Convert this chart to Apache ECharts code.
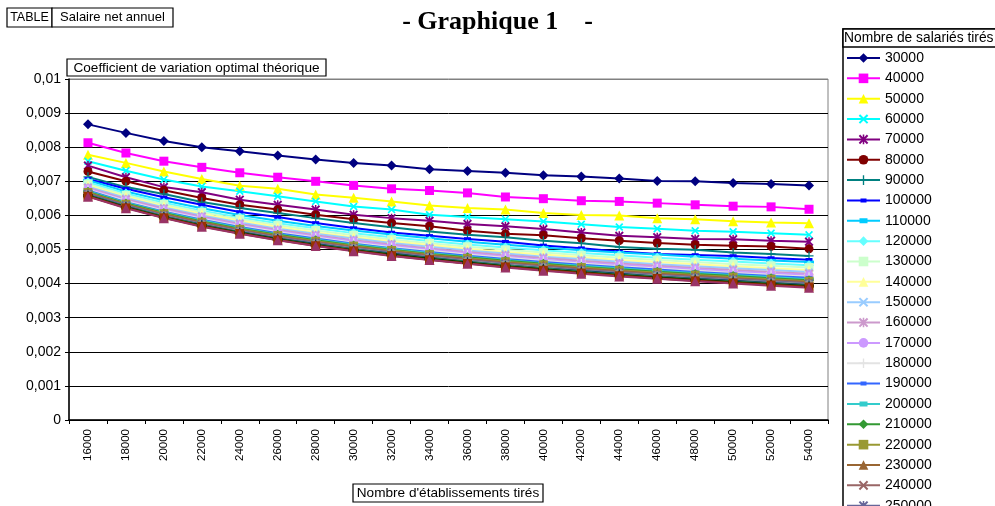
<!DOCTYPE html>
<html><head><meta charset="utf-8">
<script src="https://cdn.jsdelivr.net/npm/echarts@6/dist/echarts.min.js"></script>
<style>html,body{margin:0;padding:0;background:#fff}#c{width:995px;height:506px}</style>
</head><body><div id="c"></div>
<script>
// x categories: Nombre d'établissements tirés
const categories = ['16000','18000','20000','22000','24000','26000','28000','30000','32000','34000','36000','38000','40000','42000','44000','46000','48000','50000','52000','54000'];
// y tick values (in thousandths) 0..10 -> 0 .. 0,01
const yTicks = [0,1,2,3,4,5,6,7,8,9,10];
// series names: Nombre de salariés tirés
const seriesNames = ['30000','40000','50000','60000','70000','80000','90000','100000','110000','120000','130000','140000','150000','160000','170000','180000','190000','200000','210000','220000','230000','240000','250000','260000','270000','280000','290000','300000','310000','320000'];
// values in thousandths (x 0.001)
const s30000  = [8.67,8.42,8.18,8.00,7.88,7.76,7.64,7.54,7.46,7.35,7.30,7.25,7.18,7.14,7.08,7.01,7.00,6.95,6.92,6.88];
const s40000  = [8.13,7.83,7.59,7.41,7.25,7.12,7.00,6.88,6.78,6.73,6.66,6.54,6.49,6.43,6.41,6.36,6.31,6.27,6.25,6.18];
const s50000  = [7.78,7.54,7.29,7.07,6.87,6.78,6.61,6.52,6.41,6.29,6.22,6.17,6.07,6.01,6.00,5.92,5.89,5.83,5.79,5.77];
const s60000  = [7.59,7.31,7.05,6.85,6.71,6.56,6.41,6.26,6.17,6.02,5.95,5.89,5.82,5.74,5.66,5.61,5.55,5.52,5.48,5.43];
const s70000  = [7.46,7.12,6.83,6.68,6.46,6.31,6.17,6.02,5.92,5.84,5.75,5.68,5.60,5.50,5.40,5.36,5.31,5.30,5.26,5.23];
const s80000  = [7.29,7.00,6.74,6.51,6.31,6.17,6.02,5.89,5.78,5.68,5.55,5.46,5.42,5.33,5.26,5.19,5.14,5.11,5.09,5.02];
const s90000  = [7.13,6.83,6.63,6.39,6.22,6.07,5.92,5.78,5.65,5.53,5.43,5.36,5.26,5.18,5.07,5.02,4.99,4.91,4.87,4.81];
const s100000 = [7.07,6.78,6.53,6.31,6.10,5.95,5.78,5.63,5.50,5.40,5.31,5.23,5.12,5.04,4.94,4.87,4.84,4.81,4.75,4.70];
const s110000 = [7.03,6.70,6.44,6.21,6.01,5.84,5.69,5.56,5.44,5.33,5.23,5.14,5.06,4.98,4.91,4.85,4.79,4.73,4.68,4.63];
const s120000 = [6.97,6.64,6.37,6.14,5.94,5.77,5.62,5.48,5.36,5.25,5.15,5.06,4.98,4.90,4.83,4.76,4.70,4.65,4.59,4.54];
const s130000 = [6.92,6.59,6.32,6.09,5.89,5.71,5.56,5.42,5.29,5.18,5.08,4.99,4.91,4.83,4.76,4.69,4.63,4.57,4.52,4.47];
const s140000 = [6.88,6.55,6.27,6.04,5.84,5.66,5.50,5.36,5.24,5.13,5.02,4.93,4.85,4.77,4.69,4.63,4.57,4.51,4.45,4.40];
const s150000 = [6.84,6.51,6.23,6.00,5.79,5.61,5.46,5.32,5.19,5.08,4.97,4.88,4.79,4.72,4.64,4.57,4.51,4.45,4.40,4.34];
const s160000 = [6.81,6.47,6.20,5.96,5.75,5.57,5.42,5.27,5.15,5.03,4.93,4.83,4.75,4.67,4.59,4.52,4.46,4.40,4.34,4.29];
const s170000 = [6.78,6.44,6.16,5.93,5.72,5.54,5.38,5.24,5.11,4.99,4.89,4.79,4.70,4.62,4.55,4.48,4.42,4.35,4.30,4.25];
const s180000 = [6.75,6.42,6.14,5.90,5.69,5.51,5.35,5.20,5.07,4.96,4.85,4.76,4.67,4.59,4.51,4.44,4.38,4.31,4.26,4.20];
const s190000 = [6.73,6.39,6.11,5.87,5.66,5.48,5.32,5.17,5.04,4.93,4.82,4.72,4.63,4.55,4.48,4.41,4.34,4.28,4.22,4.17];
const s200000 = [6.71,6.37,6.09,5.85,5.64,5.45,5.29,5.15,5.02,4.90,4.79,4.69,4.60,4.52,4.45,4.37,4.31,4.25,4.19,4.13];
const s210000 = [6.69,6.35,6.07,5.82,5.61,5.43,5.27,5.12,4.99,4.87,4.77,4.67,4.58,4.49,4.42,4.35,4.28,4.22,4.16,4.10];
const s220000 = [6.67,6.33,6.05,5.80,5.59,5.41,5.24,5.10,4.97,4.85,4.74,4.64,4.55,4.47,4.39,4.32,4.25,4.19,4.13,4.07];
const s230000 = [6.65,6.31,6.03,5.79,5.57,5.39,5.22,5.08,4.95,4.83,4.72,4.62,4.53,4.44,4.37,4.29,4.23,4.16,4.10,4.05];
const s240000 = [6.64,6.30,6.01,5.77,5.56,5.37,5.21,5.06,4.93,4.81,4.70,4.60,4.51,4.42,4.34,4.27,4.20,4.14,4.08,4.02];
const s250000 = [6.63,6.29,6.00,5.75,5.54,5.35,5.19,5.04,4.91,4.79,4.68,4.58,4.49,4.40,4.32,4.25,4.18,4.12,4.06,4.00];
const s260000 = [6.61,6.27,5.98,5.74,5.53,5.34,5.17,5.03,4.89,4.77,4.66,4.56,4.47,4.38,4.30,4.23,4.16,4.10,4.04,3.98];
const s270000 = [6.60,6.26,5.97,5.73,5.51,5.32,5.16,5.01,4.88,4.76,4.64,4.54,4.45,4.37,4.29,4.21,4.14,4.08,4.02,3.96];
const s280000 = [6.59,6.25,5.96,5.71,5.50,5.31,5.14,5.00,4.86,4.74,4.63,4.53,4.44,4.35,4.27,4.20,4.13,4.06,4.00,3.94];
const s290000 = [6.58,6.24,5.95,5.70,5.49,5.30,5.13,4.98,4.85,4.73,4.62,4.51,4.42,4.33,4.25,4.18,4.11,4.05,3.99,3.93];
const s300000 = [6.57,6.23,5.94,5.69,5.48,5.29,5.12,4.97,4.84,4.71,4.60,4.50,4.41,4.32,4.24,4.17,4.10,4.03,3.97,3.91];
const s310000 = [6.56,6.22,5.93,5.68,5.47,5.28,5.11,4.96,4.82,4.70,4.59,4.49,4.39,4.31,4.23,4.15,4.08,4.02,3.96,3.90];
const s320000 = [6.55,6.21,5.92,5.67,5.46,5.27,5.10,4.95,4.81,4.69,4.58,4.47,4.38,4.29,4.21,4.14,4.07,4.00,3.94,3.88];

const allValues = [s30000,s40000,s50000,s60000,s70000,s80000,s90000,s100000,s110000,s120000,s130000,s140000,s150000,s160000,s170000,s180000,s190000,s200000,s210000,s220000,s230000,s240000,s250000,s260000,s270000,s280000,s290000,s300000,s310000,s320000];

const colors = ['#000080','#FF00FF','#FFFF00','#00FFFF','#800080','#800000','#008080','#0000FF','#00CCFF','#66FFFF','#CCFFCC','#FFFF99','#99CCFF','#CC99CC','#CC99FF','#E3E3E3','#3366FF','#33CCCC','#339933','#999933','#996633','#996666','#666699','#969696','#003366','#339966','#003300','#333300','#993300','#993366'];

const X_PATH = 'path://M0,1.5L1.5,0L5,3.5L8.5,0L10,1.5L6.5,5L10,8.5L8.5,10L5,6.5L1.5,10L0,8.5L3.5,5Z';
const STAR_PATH = 'path://M0,1.5L1.5,0L5,3.5L8.5,0L10,1.5L6.5,5L10,8.5L8.5,10L5,6.5L1.5,10L0,8.5L3.5,5Z M4.2,0L5.8,0L5.8,10L4.2,10Z';
const PLUS_PATH = 'path://M4.3,0H5.7V4.3H10V5.7H5.7V10H4.3V5.7H0V4.3H4.3Z';
const SHORT_DASH_PATH = 'path://M0,0H6V3H0Z';
const LONG_DASH_PATH = 'path://M0,0H10V3H0Z';
// legend icons for dash markers: line + bar
const SHORT_DASH_ICON = 'path://M0,1.5H33V3.5H0Z M13.5,0.5H19.5V4.5H13.5Z';
const LONG_DASH_ICON = 'path://M0,1.5H33V3.5H0Z M12.5,0H20.5V5H12.5Z';
const markers = [
  {symbol:'diamond', size:10, keep:false},
  {symbol:'rect', size:9, keep:false},
  {symbol:'triangle', size:10, keep:false},
  {symbol:X_PATH, size:8, keep:false},
  {symbol:STAR_PATH, size:9, keep:false},
  {symbol:'circle', size:9, keep:false},
  {symbol:PLUS_PATH, size:9, keep:false},
  {symbol:SHORT_DASH_PATH, size:7, keep:true, icon:SHORT_DASH_ICON},
  {symbol:LONG_DASH_PATH, size:10, keep:true, icon:LONG_DASH_ICON}
];

const FONT = 'Liberation Sans, Arial, sans-serif';

const series = seriesNames.map((name, i) => {
  const m = markers[i % markers.length];
  return {
    name: name,
    type: 'line',
    data: allValues[i],
    symbol: m.symbol,
    symbolSize: m.size,
    symbolKeepAspect: m.keep,
    showAllSymbol: true,
    lineStyle: {color: colors[i], width: 2},
    itemStyle: {color: colors[i], borderWidth: 0},
    emphasis: {disabled: true},
    animation: false
  };
});

const legendData = seriesNames.map((name, i) => {
  const m = markers[i % markers.length];
  return m.icon ? {name: name, icon: m.icon} : {name: name};
});

const splitColors = yTicks.map((t, i) => i === yTicks.length - 1 ? '#808080' : '#000');

const chart = echarts.init(document.getElementById('c'), null, {renderer: 'canvas'});
chart.setOption({
  backgroundColor: '#fff',
  animation: false,
  grid: {left: 69, right: 167, top: 79, bottom: 86, show: true, borderColor: '#808080', borderWidth: 1, backgroundColor: '#fff'},
  xAxis: {
    type: 'category',
    data: categories,
    boundaryGap: true,
    axisLine: {lineStyle: {color: '#000', width: 1.5}},
    axisTick: {show: true, inside: false, length: 4, alignWithLabel: false, lineStyle: {color: '#000'}},
    axisLabel: {rotate: 90, color: '#000', fontFamily: FONT, fontSize: 11.5, margin: 9, interval: 0},
    splitLine: {show: false}
  },
  yAxis: {
    type: 'value',
    min: yTicks[0],
    max: yTicks[yTicks.length - 1],
    interval: 1,
    axisLine: {show: true, lineStyle: {color: '#000', width: 1.5}},
    axisTick: {show: true, inside: false, length: 4, lineStyle: {color: '#000'}},
    axisLabel: {color: '#000', fontFamily: FONT, fontSize: 14, margin: 8,
      formatter: v => String(Number((v / 1000).toFixed(3))).replace('.', ',')},
    splitLine: {show: true, lineStyle: {color: splitColors, width: 1}}
  },
  legend: {
    orient: 'vertical',
    left: 841, top: 46, height: 2000,
    itemWidth: 33, itemHeight: 12, itemGap: 6.35,
    textStyle: {color: '#000', fontFamily: FONT, fontSize: 14, lineHeight: 14},
    data: legendData,
    selectedMode: false
  },
  tooltip: {show: false},
  series: series,
  graphic: [
    {type: 'rect', shape: {x: 7, y: 8, width: 45, height: 19}, style: {fill: '#fff', stroke: '#000', lineWidth: 1.2}},
    {type: 'text', x: 29.5, y: 17.5, style: {text: 'TABLE', font: '12.5px ' + FONT, fill: '#000', align: 'center', verticalAlign: 'middle'}},
    {type: 'rect', shape: {x: 52, y: 8, width: 121, height: 19}, style: {fill: '#fff', stroke: '#000', lineWidth: 1.2}},
    {type: 'text', x: 112.5, y: 17.5, style: {text: 'Salaire net annuel', font: '13px ' + FONT, fill: '#000', align: 'center', verticalAlign: 'middle'}},
    {type: 'text', x: 497.5, y: 22, style: {text: '- Graphique 1    -', font: 'bold 26px Liberation Serif, Times New Roman, serif', fill: '#000', align: 'center', verticalAlign: 'middle'}},
    {type: 'rect', shape: {x: 67, y: 59, width: 259, height: 17}, style: {fill: '#fff', stroke: '#000', lineWidth: 1.2}},
    {type: 'text', x: 196.5, y: 68, style: {text: 'Coefficient de variation optimal théorique', font: '13.6px ' + FONT, fill: '#000', align: 'center', verticalAlign: 'middle'}},
    {type: 'rect', shape: {x: 353, y: 484, width: 190, height: 18}, style: {fill: '#fff', stroke: '#000', lineWidth: 1.2}},
    {type: 'text', x: 448, y: 493.5, style: {text: "Nombre d'établissements tirés", font: '13.6px ' + FONT, fill: '#000', align: 'center', verticalAlign: 'middle'}},
    {type: 'rect', z: -10, shape: {x: 843, y: 29, width: 160, height: 500}, style: {fill: 'none', stroke: '#000', lineWidth: 1.5}},
    {type: 'rect', shape: {x: 843, y: 29, width: 160, height: 18}, style: {fill: '#fff', stroke: '#000', lineWidth: 1.5}},
    {type: 'text', x: 844, y: 38.5, style: {text: 'Nombre de salariés tirés', font: '13.8px ' + FONT, fill: '#000', align: 'left', verticalAlign: 'middle'}}
  ]
});
</script>
</body></html>
